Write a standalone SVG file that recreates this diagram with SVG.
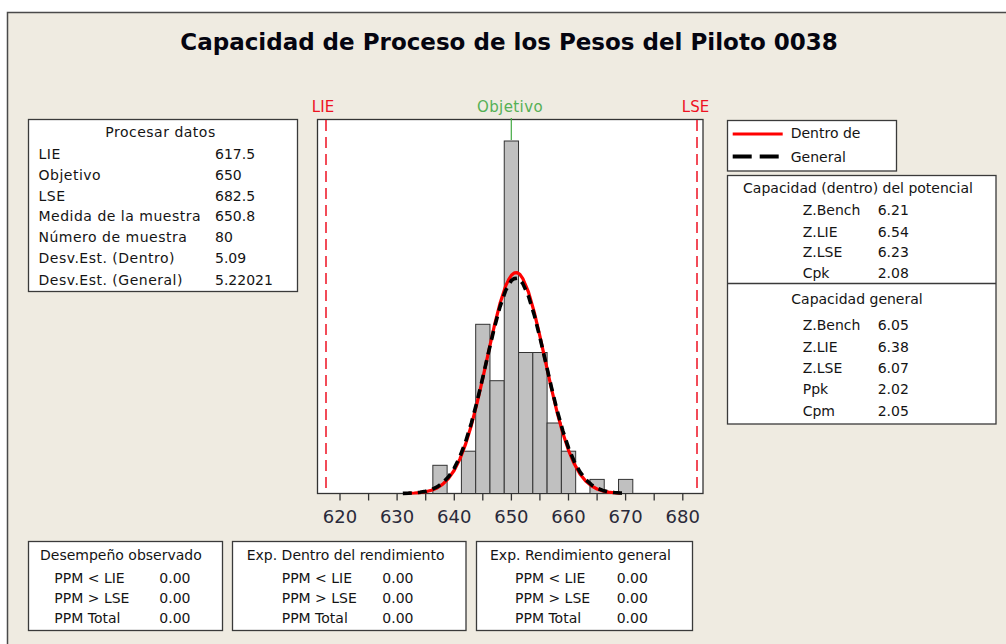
<svg xmlns="http://www.w3.org/2000/svg" width="1006" height="644" viewBox="0 0 1006 644">
<defs>
<style>
.t{font-family:"DejaVu Sans",Verdana,sans-serif;font-size:14px;fill:#141414}
.w{letter-spacing:0.5px}
.box{fill:#fff;stroke:#3a3a3a;stroke-width:1.3}
.tick{stroke:#333;stroke-width:1.3}
.ax{font-family:"DejaVu Sans",Verdana,sans-serif;font-size:18px;fill:#2a2a3a;text-anchor:middle}
.bar{fill:#c0c0c0;stroke:#333;stroke-width:1}
.lim{stroke:#ee1122;stroke-width:1.5;stroke-dasharray:11,6}
.c{text-anchor:middle}
</style>
</defs>
<rect x="0" y="0" width="1006" height="644" fill="#ffffff"/>
<rect x="7.5" y="12.5" width="1010" height="650" fill="#efebe1" stroke="#4a4a4a" stroke-width="1.5"/>
<text id="title" x="509" y="49.5" font-family="'DejaVu Sans',Verdana,sans-serif" font-size="23" font-weight="bold" fill="#050510" text-anchor="middle">Capacidad de Proceso de los Pesos del Piloto 0038</text>

<g id="plot">
<rect x="317.5" y="119.5" width="385.5" height="374" fill="#fff" stroke="#333" stroke-width="1.3"/>
<g id="bars">
<rect class="bar" x="432.84" y="465.3" width="14.28" height="28.2"/>
<rect class="bar" x="461.41" y="451.2" width="14.28" height="42.3"/>
<rect class="bar" x="475.69" y="324.3" width="14.28" height="169.2"/>
<rect class="bar" x="489.97" y="380.7" width="14.28" height="112.8"/>
<rect class="bar" x="504.25" y="141" width="14.28" height="352.5"/>
<rect class="bar" x="518.54" y="352.5" width="14.28" height="141"/>
<rect class="bar" x="532.82" y="352.5" width="14.28" height="141"/>
<rect class="bar" x="547.10" y="423" width="14.28" height="70.5"/>
<rect class="bar" x="561.39" y="451.2" width="14.28" height="42.3"/>
<rect class="bar" x="589.95" y="479.4" width="14.28" height="14.1"/>
<rect class="bar" x="618.52" y="479.4" width="14.28" height="14.1"/>
</g>
<line class="lim" x1="326" y1="120" x2="326" y2="493"/>
<line class="lim" x1="697" y1="120" x2="697" y2="493"/>
<line x1="511.3" y1="118" x2="511.3" y2="140" stroke="#44aa44" stroke-width="1.2"/>
<g id="curves" fill="none" stroke-linejoin="round" stroke-linecap="butt">
<polyline stroke="#ff0000" stroke-width="3.2" points="408.56,493.26 414.27,493.01 419.98,492.55 425.70,491.71 431.41,490.28 437.12,487.90 442.83,484.14 448.55,478.46 454.26,470.24 459.97,458.87 465.69,443.90 471.40,425.19 477.11,402.96 482.83,378.03 488.54,351.84 494.25,326.25 499.96,303.53 505.68,285.89 508.53,279.9 511.39,275.21 514.2,272.9 517.10,272.67 519.9,274.4 522.82,278.56 528.53,292.21 534.24,312.13 539.95,336.26 545.67,362.36 551.38,388.26 557.09,412.24 562.81,433.12 568.52,450.36 574.23,463.82 579.95,473.88 585.66,481.00 591.37,485.84 597.08,488.99 602.80,490.94 608.51,492.10 614.22,492.77 619.94,493.13"/>
<polyline stroke="#000" stroke-width="3.6" stroke-dasharray="9,6" points="402.84,493.34 408.56,493.17 414.27,492.86 419.98,492.29 425.70,491.29 431.41,489.63 437.12,486.96 442.83,482.84 448.55,476.76 454.26,468.15 459.97,456.52 465.69,441.45 471.40,422.92 477.11,401.24 482.83,377.26 488.54,352.30 494.25,328.17 499.96,306.88 505.68,290.43 511.39,280.51 514.2,278.6 517.10,278.16 519.9,279.9 522.82,283.62 528.53,296.31 534.24,314.91 539.95,337.59 545.67,362.28 551.38,387.06 557.09,410.25 562.81,430.75 568.52,447.90 574.23,461.56 579.95,471.93 585.66,479.46 591.37,484.69 597.08,488.17 602.80,490.39 608.51,491.75 614.22,492.55 619.94,493.01 625.65,493.25"/>
</g>
<g id="axis">
<line class="tick" x1="340" y1="493.5" x2="340" y2="500.5"/>
<line class="tick" x1="368.6" y1="493.5" x2="368.6" y2="500.5"/>
<line class="tick" x1="397.1" y1="493.5" x2="397.1" y2="500.5"/>
<line class="tick" x1="425.7" y1="493.5" x2="425.7" y2="500.5"/>
<line class="tick" x1="454.3" y1="493.5" x2="454.3" y2="500.5"/>
<line class="tick" x1="482.8" y1="493.5" x2="482.8" y2="500.5"/>
<line class="tick" x1="511.4" y1="493.5" x2="511.4" y2="500.5"/>
<line class="tick" x1="539.9" y1="493.5" x2="539.9" y2="500.5"/>
<line class="tick" x1="568.5" y1="493.5" x2="568.5" y2="500.5"/>
<line class="tick" x1="597.1" y1="493.5" x2="597.1" y2="500.5"/>
<line class="tick" x1="625.6" y1="493.5" x2="625.6" y2="500.5"/>
<line class="tick" x1="654.2" y1="493.5" x2="654.2" y2="500.5"/>
<line class="tick" x1="682.8" y1="493.5" x2="682.8" y2="500.5"/>
<text class="ax" x="340" y="523">620</text>
<text class="ax" x="397.1" y="523">630</text>
<text class="ax" x="454.3" y="523">640</text>
<text class="ax" x="511.4" y="523">650</text>
<text class="ax" x="568.5" y="523">660</text>
<text class="ax" x="625.6" y="523">670</text>
<text class="ax" x="682.8" y="523">680</text>
</g>
<text x="323" y="112" font-family="'DejaVu Sans',Verdana,sans-serif" font-size="15" fill="#ee1122" text-anchor="middle">LIE</text>
<text x="695.5" y="112" font-family="'DejaVu Sans',Verdana,sans-serif" font-size="15" fill="#ee1122" text-anchor="middle">LSE</text>
<text x="510" y="112" font-family="'DejaVu Sans',Verdana,sans-serif" font-size="15" fill="#55b055" text-anchor="middle" letter-spacing="0.4">Objetivo</text>
</g>

<g id="procesar-datos">
<rect class="box" x="28.5" y="119.5" width="269" height="172"/>
<text class="t c w" x="160.5" y="137">Procesar datos</text>
<text class="t w" x="38.5" y="159">LIE</text><text class="t" x="215" y="159">617.5</text>
<text class="t w" x="38.5" y="180">Objetivo</text><text class="t" x="215" y="180">650</text>
<text class="t w" x="38.5" y="201">LSE</text><text class="t" x="215" y="201">682.5</text>
<text class="t w" x="38.5" y="221">Medida de la muestra</text><text class="t" x="215" y="221">650.8</text>
<text class="t w" x="38.5" y="242">Número de muestra</text><text class="t" x="215" y="242">80</text>
<text class="t w" x="38.5" y="263">Desv.Est. (Dentro)</text><text class="t" x="215" y="263">5.09</text>
<text class="t w" x="38.5" y="285">Desv.Est. (General)</text><text class="t" x="215" y="285">5.22021</text>
</g>

<g id="legend">
<rect class="box" x="727.5" y="120.5" width="169" height="50.5"/>
<line x1="732.7" y1="134" x2="782.7" y2="134" stroke="#ff0000" stroke-width="3"/>
<line x1="732.7" y1="156.5" x2="782.7" y2="156.5" stroke="#000" stroke-width="4" stroke-dasharray="19,8"/>
<text class="t" x="790.7" y="138" font-size="16">Dentro de</text>
<text class="t" x="790.7" y="161.5" font-size="16">General</text>
</g>

<g id="capacidad">
<rect class="box" x="727.5" y="175.5" width="268.5" height="248.5"/>
<line x1="727.5" y1="283.5" x2="996" y2="283.5" stroke="#3a3a3a" stroke-width="1.3"/>
<text class="t c" x="858" y="193">Capacidad (dentro) del potencial</text>
<text class="t" x="802.7" y="215">Z.Bench</text><text class="t" x="877.7" y="215">6.21</text>
<text class="t" x="802.7" y="237">Z.LIE</text><text class="t" x="877.7" y="237">6.54</text>
<text class="t" x="802.7" y="257">Z.LSE</text><text class="t" x="877.7" y="257">6.23</text>
<text class="t" x="802.7" y="278">Cpk</text><text class="t" x="877.7" y="278">2.08</text>
<text class="t c" x="857" y="304">Capacidad general</text>
<text class="t" x="802.7" y="330">Z.Bench</text><text class="t" x="877.7" y="330">6.05</text>
<text class="t" x="802.7" y="352">Z.LIE</text><text class="t" x="877.7" y="352">6.38</text>
<text class="t" x="802.7" y="373">Z.LSE</text><text class="t" x="877.7" y="373">6.07</text>
<text class="t" x="802.7" y="394">Ppk</text><text class="t" x="877.7" y="394">2.02</text>
<text class="t" x="802.7" y="416">Cpm</text><text class="t" x="877.7" y="416">2.05</text>
</g>

<g id="desempeno-observado">
<rect class="box" x="28.5" y="541.5" width="194" height="89"/>
<text class="t" x="40" y="560">Desempeño observado</text>
<text class="t" x="54.3" y="583">PPM &lt; LIE</text><text class="t" x="159.3" y="583">0.00</text>
<text class="t" x="54.3" y="603">PPM &gt; LSE</text><text class="t" x="159.3" y="603">0.00</text>
<text class="t" x="54.3" y="623">PPM Total</text><text class="t" x="159.3" y="623">0.00</text>
</g>
<g id="exp-dentro">
<rect class="box" x="232.5" y="541.5" width="233.5" height="89"/>
<text class="t" x="246.7" y="560">Exp. Dentro del rendimiento</text>
<text class="t" x="281.7" y="583">PPM &lt; LIE</text><text class="t" x="382.3" y="583">0.00</text>
<text class="t" x="281.7" y="603">PPM &gt; LSE</text><text class="t" x="382.3" y="603">0.00</text>
<text class="t" x="281.7" y="623">PPM Total</text><text class="t" x="382.3" y="623">0.00</text>
</g>
<g id="exp-general">
<rect class="box" x="476.5" y="541.5" width="216" height="89"/>
<text class="t" x="490" y="560">Exp. Rendimiento general</text>
<text class="t" x="515" y="583">PPM &lt; LIE</text><text class="t" x="616.7" y="583">0.00</text>
<text class="t" x="515" y="603">PPM &gt; LSE</text><text class="t" x="616.7" y="603">0.00</text>
<text class="t" x="515" y="623">PPM Total</text><text class="t" x="616.7" y="623">0.00</text>
</g>
</svg>
